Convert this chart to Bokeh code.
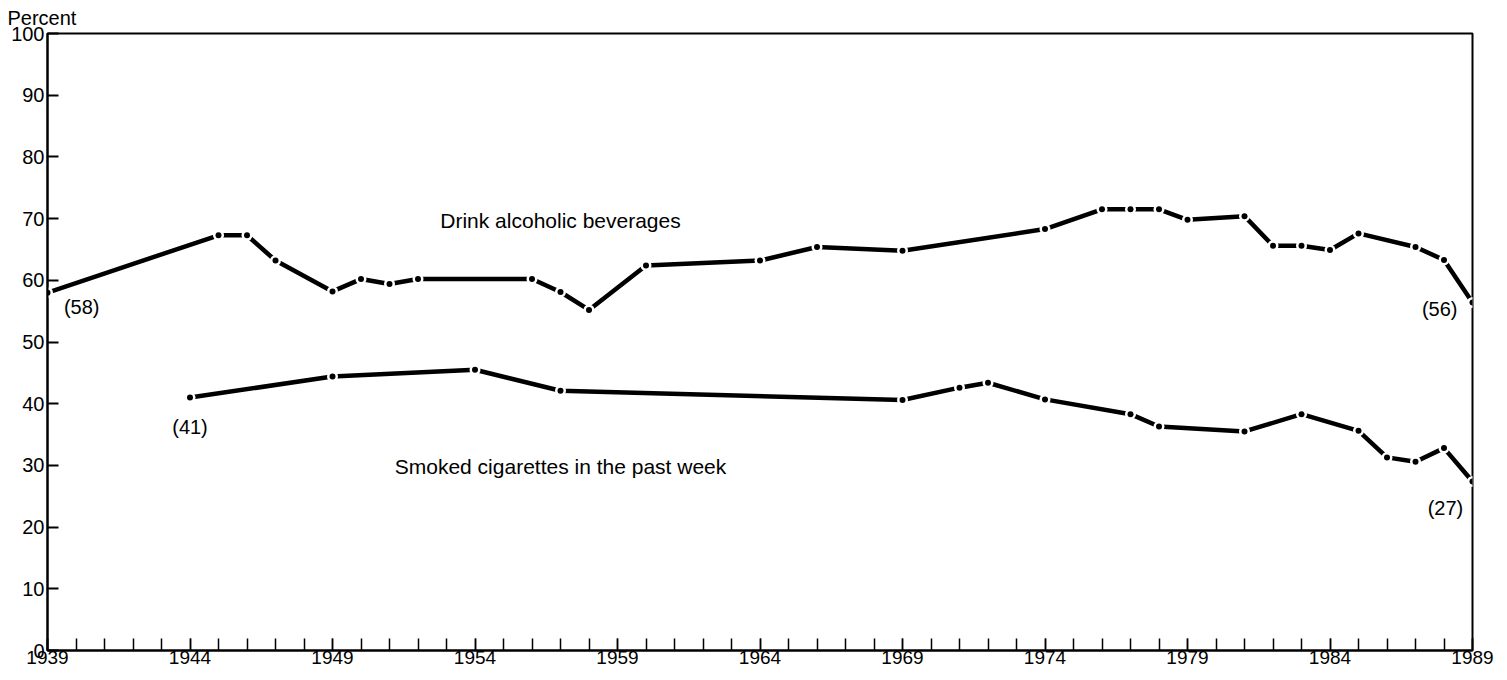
from bokeh.plotting import figure
from bokeh.models import Range1d, FixedTicker, Label
from bokeh.embed import file_html
from bokeh.resources import INLINE

# ---- data ----
alc_years = [1939, 1945, 1946, 1947, 1949, 1950, 1951, 1952, 1956, 1957, 1958, 1960,
             1964, 1966, 1969, 1974, 1976, 1977, 1978, 1979, 1981, 1982, 1983, 1984,
             1985, 1987, 1988, 1989]
alc_pct = [58.0, 67.3, 67.3, 63.2, 58.2, 60.2, 59.4, 60.2, 60.2, 58.1, 55.2, 62.4,
           63.2, 65.4, 64.8, 68.3, 71.5, 71.5, 71.5, 69.8, 70.4, 65.6, 65.6, 64.9,
           67.6, 65.4, 63.3, 56.4]

smk_years = [1944, 1949, 1954, 1957, 1969, 1971, 1972, 1974, 1977, 1978, 1981, 1983,
             1985, 1986, 1987, 1988, 1989]
smk_pct = [41.0, 44.4, 45.5, 42.1, 40.6, 42.6, 43.4, 40.7, 38.3, 36.3, 35.5, 38.3,
           35.6, 31.3, 30.6, 32.8, 27.4]

x_major_ticks = [1939, 1944, 1949, 1954, 1959, 1964, 1969, 1974, 1979, 1984, 1989]
x_minor_ticks = list(range(1939, 1990))
y_ticks = [0, 10, 20, 30, 40, 50, 60, 70, 80, 90, 100]

series_labels = ["Drink alcoholic beverages", "Smoked cigarettes in the past week"]
series_label_x = [1957.0, 1957.0]
series_label_y = [69.7, 29.9]

value_labels = ["(58)", "(41)", "(56)", "(27)"]
value_label_x = [1940.2, 1944.0, 1987.85, 1988.05]
value_label_y = [55.7, 36.2, 55.3, 23.1]

axis_unit_label = "Percent"

FONT = "Liberation Sans"

p = figure(width=1499, height=672, output_backend="svg", toolbar_location=None,
           x_range=Range1d(1939, 1989), y_range=Range1d(0, 100),
           min_border_left=47, min_border_right=27, min_border_top=33,
           min_border_bottom=22, title=axis_unit_label)
p.background_fill_color = "white"
p.border_fill_color = "white"
p.outline_line_color = "black"
p.outline_line_width = 2
p.outline_line_alpha = 1.0
p.xgrid.visible = False
p.ygrid.visible = False

# "Percent" as title at top-left
p.title.align = "left"
p.title.offset = -40
p.title.text_font = FONT
p.title.text_font_size = "20px"
p.title.text_font_style = "normal"
p.title.text_color = "black"
p.title.standoff = 9

# x axis
p.xaxis.ticker = FixedTicker(ticks=x_major_ticks, minor_ticks=x_minor_ticks)
p.xaxis.axis_line_width = 2
p.xaxis.axis_line_color = "black"
p.xaxis.major_tick_in = 12
p.xaxis.major_tick_out = 0
p.xaxis.minor_tick_in = 12
p.xaxis.minor_tick_out = 0
p.xaxis.major_tick_line_width = 1.5
p.xaxis.minor_tick_line_width = 1.5
p.xaxis.major_tick_line_color = "black"
p.xaxis.minor_tick_line_color = "black"
p.xaxis.major_label_text_font = FONT
p.xaxis.major_label_text_font_size = "19px"
p.xaxis.major_label_text_color = "black"
p.xaxis.major_label_standoff = 0

# y axis
p.yaxis.ticker = FixedTicker(ticks=y_ticks)
p.yaxis.axis_line_width = 2
p.yaxis.axis_line_color = "black"
p.yaxis.major_tick_in = 11
p.yaxis.major_tick_out = 0
p.yaxis.minor_tick_line_color = None
p.yaxis.major_tick_line_width = 2
p.yaxis.major_tick_line_color = "black"
p.yaxis.major_label_text_font = FONT
p.yaxis.major_label_text_font_size = "20px"
p.yaxis.major_label_text_color = "black"
p.yaxis.major_label_standoff = 3

# series: thick line, white gap around each point, small black dot
for xs, ys in [(alc_years, alc_pct), (smk_years, smk_pct)]:
    p.line(xs, ys, line_color="black", line_width=4.5)
    p.scatter(xs, ys, size=11, fill_color="white", line_color=None)
    p.scatter(xs, ys, size=6, fill_color="black", line_color=None)

for t, x, y in zip(series_labels, series_label_x, series_label_y):
    p.add_layout(Label(x=x, y=y, text=t, text_align="center", text_baseline="middle",
                       text_font=FONT, text_font_size="21px", text_color="black"))

for t, x, y in zip(value_labels, value_label_x, value_label_y):
    p.add_layout(Label(x=x, y=y, text=t, text_align="center", text_baseline="middle",
                       text_font=FONT, text_font_size="20px", text_color="black"))

open("out.html", "w").write(file_html(p, INLINE))
